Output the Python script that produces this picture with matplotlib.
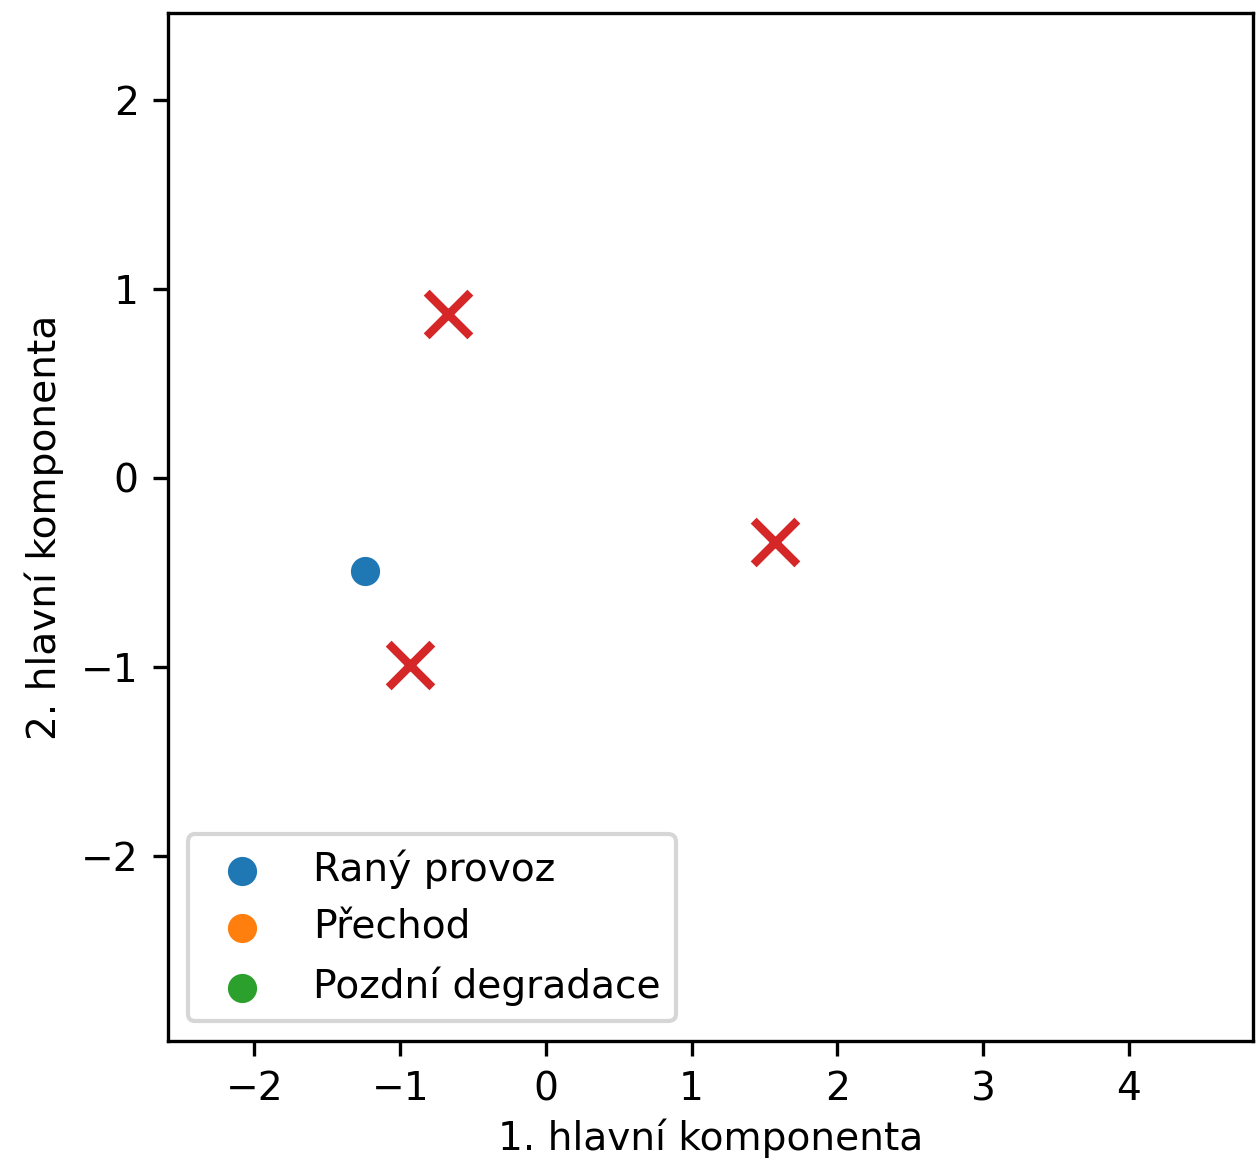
import matplotlib
matplotlib.use("Agg")
import matplotlib.pyplot as plt

# --- data ---
early_pc1 = [-1.24]
early_pc2 = [-0.49]

transition_pc1 = []
transition_pc2 = []

late_pc1 = []
late_pc2 = []

anomaly_pc1 = [-0.67, 1.57, -0.93]
anomaly_pc2 = [0.87, -0.34, -0.99]

labels = ["Raný provoz", "Přechod", "Pozdní degradace"]

plt.rcParams["font.size"] = 9.4

fig = plt.figure(figsize=(1258 / 300, 1162 / 300), dpi=300)
ax = fig.add_axes([0.1335, 0.1041, 0.8625, 0.8847])

ax.scatter(early_pc1, early_pc2, color="tab:blue", label=labels[0])
ax.scatter(transition_pc1, transition_pc2, color="tab:orange", label=labels[1])
ax.scatter(late_pc1, late_pc2, color="tab:green", label=labels[2])
ax.scatter(anomaly_pc1, anomaly_pc2, color="tab:red", marker="x", s=110, linewidths=2)

ax.set_xlim(-2.594, 4.853)
ax.set_ylim(-2.979, 2.46)
ax.set_xlabel("1. hlavní komponenta", labelpad=2.5)
ax.set_ylabel("2. hlavní komponenta")
ax.legend(loc="lower left")

fig.savefig("out.png", dpi=300)
